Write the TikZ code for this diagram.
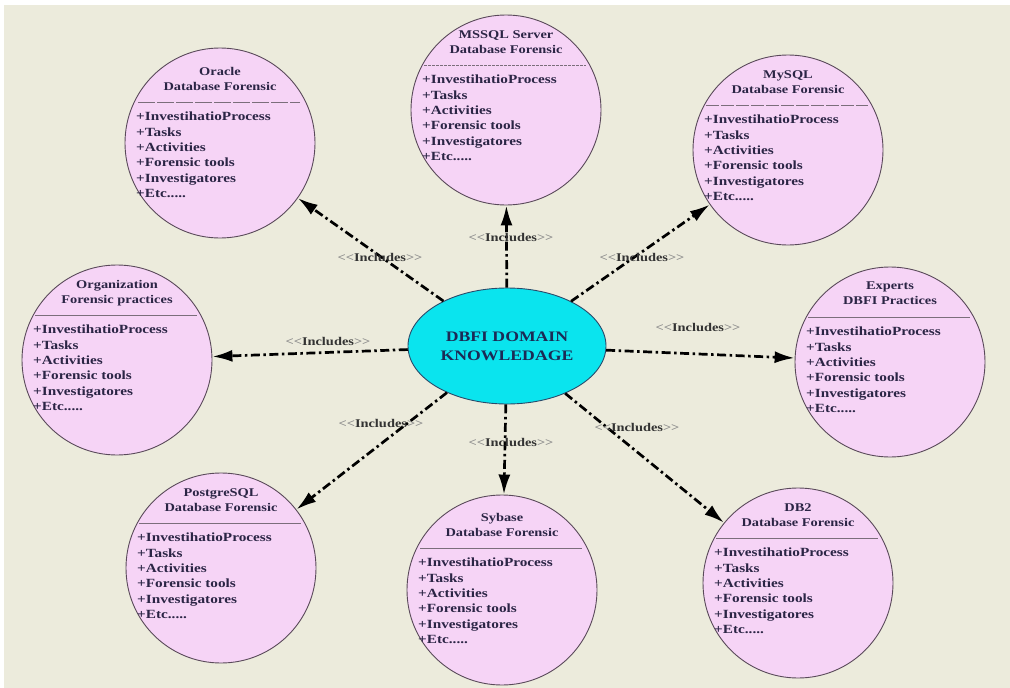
\documentclass[tikz,border=0pt]{standalone}
\usepackage{fontspec}
\usetikzlibrary{shapes.geometric,arrows.meta,calc}
\newfontfamily\uml[FakeStretch=1.22]{Liberation Serif}
\definecolor{bgc}{HTML}{ECEBDC}
\definecolor{pinkf}{HTML}{F6D4F6}
\definecolor{circd}{HTML}{5A4A5A}
\definecolor{txtc}{HTML}{2B2545}
\definecolor{cyanf}{HTML}{0AE4EE}
\definecolor{elld}{HTML}{2A4A6A}
\definecolor{elltx}{HTML}{1C2A55}
\definecolor{ltgray}{HTML}{8A8A8A}
\tikzset{
  cls/.style={circle, draw=circd, line width=0.9pt, fill=pinkf, minimum size=190pt, inner sep=0pt},
  ttl/.style={align=center, inner sep=0pt, text=txtc, font=\uml\bfseries\fontsize{11.8}{15}\selectfont},
  itm/.style={align=left, inner sep=0pt, text=txtc, font=\uml\bfseries\fontsize{12.5}{15.3}\selectfont},
  sepline/.style={draw=circd!80, line width=0.7pt},
  arr/.style={-{Latex[length=20pt,width=12pt]}, line width=2.7pt, draw=black,
    dash pattern=on 9pt off 3.5pt on 2.5pt off 3.5pt},
  lbl/.style={inner sep=0pt, text=black!80, font=\uml\bfseries\fontsize{11.8}{13}\selectfont},
  hub/.style={ellipse, draw=elld, line width=0.9pt, fill=cyanf, minimum width=198pt, minimum height=116pt,
    inner sep=0pt, align=center, text=elltx, font=\uml\bfseries\fontsize{14.5}{19}\selectfont}
}
\newcommand\dbc[7]{% name, x, y, title1, title2, sepstyle, vertical shift
  \node[cls] (#1) at (#2,#3) {};
  \node[ttl, anchor=north] (#1t) at ($(#1)+(0,-80+#7)$) {#4\\#5};
  \draw[sepline,#6] ($(#1)+(-82,-45+#7)$) coordinate (#1a) -- ($(#1)+(80,-45+#7)$) coordinate (#1b);
  \node[itm, anchor=north west] (#1i) at ($(#1)+(-84,-35+#7)$)
    {+InvestihatioProcess\\+Tasks\\+Activities\\+Forensic tools\\+Investigatores\\+Etc.....};
}
\newcommand\inc{\textcolor{ltgray}{<<}Includes\textcolor{ltgray}{>>}}
\begin{document}
\begin{tikzpicture}[x=1pt,y=-1pt]
\path[use as bounding box, fill=white] (0,0) rectangle (1010,688);
\fill[bgc] (4,5) rectangle (1010,688);

\node[hub] (hub) at (507,346) {DBFI DOMAIN\\KNOWLEDAGE};

\dbc{oracle}{220}{143}{Oracle}{Database Forensic}{dash pattern=on 17pt off 2pt}{4}
\dbc{mssql}{506}{110}{MSSQL Server}{Database Forensic}{dash pattern=on 3pt off 1pt}{0}
\dbc{mysql}{788}{150}{MySQL}{Database Forensic}{dash pattern=on 13pt off 2pt}{0}
\dbc{org}{117}{360}{Organization}{Forensic practices}{}{0}
\dbc{experts}{890}{362}{Experts}{DBFI Practices}{}{0}
\dbc{pg}{221}{568}{PostgreSQL}{Database Forensic}{}{0}
\dbc{sybase}{502}{590}{Sybase}{Database Forensic}{}{3}
\dbc{db2}{798}{583}{DB2}{Database Forensic}{}{0}

\foreach \t in {oracle,mssql,mysql,org,experts,pg,sybase,db2}
  \draw[arr] (hub) -- (\t);

\node[lbl] (l1) at (380,257) {\inc};
\node[lbl] (l2) at (511,237) {\inc};
\node[lbl] (l3) at (642,257) {\inc};
\node[lbl] (l4) at (328,341) {\inc};
\node[lbl] (l5) at (698,327) {\inc};
\node[lbl] (l6) at (381,423) {\inc};
\node[lbl] (l7) at (511,442) {\inc};
\node[lbl] (l8) at (637,427) {\inc};
\end{tikzpicture}
\end{document}
